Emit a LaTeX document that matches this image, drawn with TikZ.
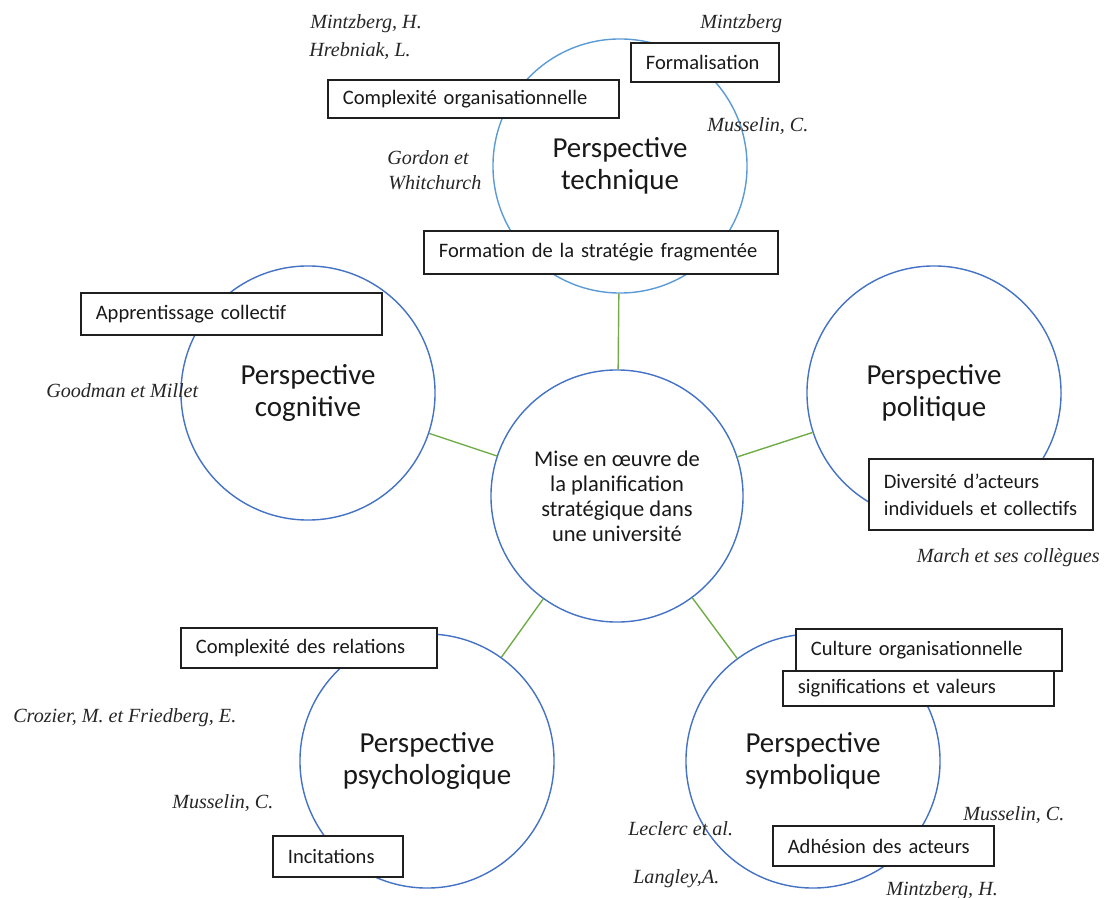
\documentclass[tikz,border=0pt]{standalone}
\usepackage{fontspec}
\setmainfont{Carlito}
\newfontfamily\reffont{Liberation Serif}
\definecolor{circblue}{HTML}{4472C4}
\definecolor{lightblue}{HTML}{5B9BD5}
\definecolor{lgreen}{HTML}{70AD47}
\definecolor{boxline}{HTML}{1F1F1F}
\definecolor{reftext}{HTML}{262626}
\tikzset{
  persp/.style={circle, draw=circblue, line width=1pt, fill=white, minimum size=6.35cm, inner sep=0pt, align=center, font=\fontsize{20.6}{22.8}\selectfont, text=black!90},
  centercirc/.style={persp, minimum size=6.3cm, font=\fontsize{16}{17.8}\selectfont},
  link/.style={draw=lgreen, line width=1pt},
  tbox/.style={draw=boxline, line width=1.2pt, fill=white, anchor=west, inner xsep=0.375cm, inner ysep=0pt, align=left, font=\fontsize{14.6}{19}\selectfont, text=black!90},
  ref/.style={anchor=base west, inner sep=0pt, text=reftext, font=\reffont\itshape\fontsize{14.3}{17}\selectfont}
}
\begin{document}
\begin{tikzpicture}[x=0.025cm,y=-0.025cm]
\useasboundingbox (0,0) rectangle (1104,898);
% circles
\node[persp, draw=lightblue] (tech) at (620,166) {Perspective\\technique};
\node[persp] (cog) at (308,393) {Perspective\\cognitive};
\node[persp] (pol) at (934,393) {Perspective\\politique};
\node[persp] (psy) at (427,761) {Perspective\\psychologique};
\node[persp] (sym) at (813,761) {Perspective\\symbolique};
\node[centercirc] (c) at (617,496) {Mise en œuvre de\\la planification\\stratégique dans\\une université};
% connectors
\draw[link] (c) -- (tech);
\draw[link] (c) -- (cog);
\draw[link] (c) -- (pol);
\draw[link] (c) -- (psy);
\draw[link] (c) -- (sym);
% boxes
\node[tbox, text width=2.95cm, minimum height=0.975cm] (b1) at (630,62.5) {\mbox{Formalisation}};
\node[tbox, text width=6.525cm, minimum height=0.95cm] (b2) at (327,99) {\mbox{Complexité organisationnelle}};
\node[tbox, text width=8.1cm, minimum height=1.075cm] (b3) at (423,252.5) {\mbox{Formation de la stratégie fragmentée}};
\node[tbox, text width=6.775cm, minimum height=1.05cm] (b4) at (80,314) {\mbox{Apprentissage collectif}};
\node[tbox, text width=4.85cm, minimum height=1.775cm] (b5) at (868,494.5) {\mbox{Diversité d’acteurs}\\\mbox{individuels et collectifs}};
\node[tbox, text width=5.65cm, minimum height=1.0cm] (b6) at (180,648) {\mbox{Complexité des relations}};
\node[tbox, text width=2.5cm, minimum height=1.025cm] (b7) at (272,856.5) {\mbox{Incitations}};
\node[tbox, text width=5.9cm, minimum height=1.05cm] (b8) at (795,650) {\mbox{Culture organisationnelle}};
\node[tbox, text width=6.025cm, minimum height=0.875cm] (b9) at (782,688.5) {\mbox{significations et valeurs}};
\node[tbox, text width=4.775cm, minimum height=1.0cm] (b10) at (772,846) {\mbox{Adhésion des acteurs}};
% references
\node[ref] (r1) at (310,29) {Mintzberg, H.};
\node[ref] (r2) at (309,57) {Hrebniak, L.};
\node[ref] (r3) at (700,29) {Mintzberg};
\node[ref] (r4) at (707,132) {Musselin, C.};
\node[ref] (r5) at (387,165) {Gordon et};
\node[ref] (r6) at (388,190) {Whitchurch};
\node[ref] (r7) at (46,398) {Goodman et Millet};
\node[ref, anchor=base east] (r8) at (1100,562) {March et ses collègues};
\node[ref] (r9) at (13,722) {Crozier, M. et Friedberg, E.};
\node[ref] (r10) at (172,808) {Musselin, C.};
\node[ref] (r11) at (628,835) {Leclerc et al.};
\node[ref] (r12) at (633,883) {Langley,A.};
\node[ref] (r13) at (963,820) {Musselin, C.};
\node[ref] (r14) at (886,895) {Mintzberg, H.};
\end{tikzpicture}
\end{document}
